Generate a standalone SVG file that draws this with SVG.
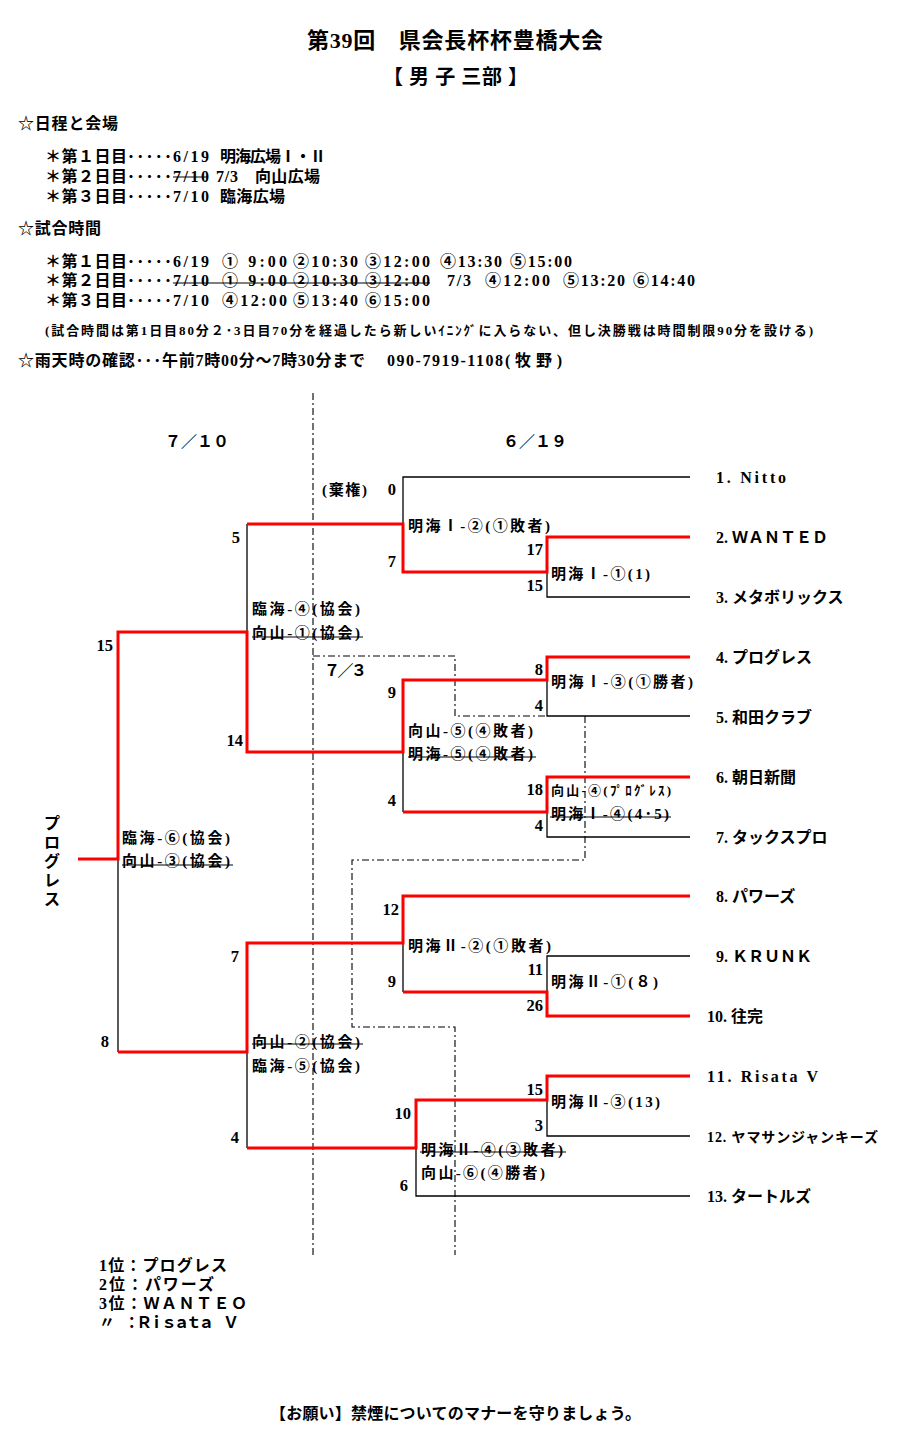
<svg xmlns="http://www.w3.org/2000/svg" width="911" height="1437" viewBox="0 0 911 1437">
<style>
text{font-family:"Liberation Serif","Noto Sans CJK JP",serif;font-weight:bold;fill:#000}
.h{font-size:16px}
.l{font-size:15px}
.sm{font-size:13px}
.sc{font-size:16.5px;text-anchor:end}
.tm{font-size:16px}
.bk{stroke:#000;stroke-width:1.3;fill:none}
.rd{stroke:#f00;stroke-width:3;fill:none}
.st{stroke:#000;stroke-width:1.2}
.dd{stroke:#000;stroke-width:1.1;fill:none;stroke-dasharray:7 3 2 3}
</style>
<rect width="911" height="1437" fill="#fff"/>

<g id="header">
<text x="307" y="48" style="font-size:22px" textLength="296">第39回　県会長杯杯豊橋大会</text>
<text x="383" y="84" style="font-size:20px" textLength="145">【 男 子 三部 】</text>

<text class="h" x="18" y="129" textLength="100">☆日程と会場</text>
<text class="h" x="45" y="162" textLength="82">＊第１日目</text><text class="h" x="127" y="162" textLength="45">･････</text><text class="h" x="173" y="162" textLength="36">6/19</text><text class="h" x="220" y="162" textLength="106">明海広場Ⅰ・Ⅱ</text>
<text class="h" x="45" y="182" textLength="82">＊第２日目</text><text class="h" x="127" y="182" textLength="45">･････</text><text class="h" x="173" y="182" textLength="36">7/10</text><text class="h" x="216" y="182" textLength="22">7/3</text><text class="h" x="255" y="182" textLength="65">向山広場</text>
<line class="st" x1="173" y1="177" x2="208" y2="177"/>
<text class="h" x="45" y="202" textLength="82">＊第３日目</text><text class="h" x="127" y="202" textLength="45">･････</text><text class="h" x="173" y="202" textLength="36">7/10</text><text class="h" x="220" y="202" textLength="65">臨海広場</text>

<text class="h" x="18" y="234" textLength="83">☆試合時間</text>
<text class="h" x="45" y="267" textLength="82">＊第１日目</text><text class="h" x="127" y="267" textLength="45">･････</text><text class="h" x="173" y="267" textLength="36">6/19</text>
<text class="h" x="222" y="267" textLength="65">① 9:00</text><text class="h" x="293" y="267" textLength="65">②10:30</text><text class="h" x="365" y="267" textLength="65">③12:00</text><text class="h" x="440" y="267" textLength="62">④13:30</text><text class="h" x="510" y="267" textLength="62">⑤15:00</text>
<text class="h" x="45" y="286" textLength="82">＊第２日目</text><text class="h" x="127" y="286" textLength="45">･････</text><text class="h" x="173" y="286" textLength="36">7/10</text>
<text class="h" x="222" y="286" textLength="65">① 9:00</text><text class="h" x="293" y="286" textLength="65">②10:30</text><text class="h" x="365" y="286" textLength="65">③12:00</text>
<line class="st" x1="173" y1="283" x2="430" y2="283"/>
<text class="h" x="447" y="286" textLength="24">7/3</text><text class="h" x="485" y="286" textLength="65">④12:00</text><text class="h" x="563" y="286" textLength="62">⑤13:20</text><text class="h" x="633" y="286" textLength="62">⑥14:40</text>
<text class="h" x="45" y="306" textLength="82">＊第３日目</text><text class="h" x="127" y="306" textLength="45">･････</text><text class="h" x="173" y="306" textLength="36">7/10</text>
<text class="h" x="222" y="306" textLength="65">④12:00</text><text class="h" x="293" y="306" textLength="65">⑤13:40</text><text class="h" x="365" y="306" textLength="65">⑥15:00</text>

<text class="sm" x="45" y="335" textLength="768">(試合時間は第1日目80分２･3日目70分を経過したら新しいｲﾆﾝｸﾞに入らない、但し決勝戦は時間制限90分を設ける)</text>
<text class="h" x="18" y="366" textLength="347">☆雨天時の確認･･･午前7時00分～7時30分まで</text>
<text class="h" x="387" y="366" textLength="116">090-7919-1108</text>
<text class="h" x="505" y="366" textLength="57">(牧野)</text>
</g>

<g id="dates">
<text class="h" x="165" y="447">７／１０</text>
<text class="h" x="503" y="447">６／１９</text>
</g>

<g id="connectors">
<line class="dd" x1="313" y1="393" x2="313" y2="1255"/>
<path class="dd" d="M313,656 H455 V716 H547"/>
<path class="dd" d="M585,716 V860 H352 V1027 H455 V1255"/>

<path class="bk" d="M690,477 H403 V524"/>
<path class="bk" d="M690,597 H547 V572"/>
<path class="bk" d="M690,716 H547 V680"/>
<path class="bk" d="M690,837 H547 V812"/>
<path class="bk" d="M403,752 V812"/>
<path class="bk" d="M247,524 V632"/>
<path class="bk" d="M118,859 V1052"/>
<path class="bk" d="M690,956 H547 V992"/>
<path class="bk" d="M403,943 V992"/>
<path class="bk" d="M690,1136 H547 V1100"/>
<path class="bk" d="M690,1196 H416 V1148"/>
<path class="bk" d="M247,1052 V1148"/>

<path class="rd" d="M690,537 H547 V572 H403 V524 H247"/>
<path class="rd" d="M690,657 H547 V680 H403 V752 H247 V632 H118 V859 H78"/>
<path class="rd" d="M690,777 H547 V812 H403"/>
<path class="rd" d="M690,896 H403 V943 H247 V1052 H118"/>
<path class="rd" d="M690,1016 H547 V992 H403"/>
<path class="rd" d="M690,1076 H547 V1100 H416 V1148 H247"/>
</g>

<g id="teams">
<g id="team-1"><text class="tm" x="716" y="483" textLength="70">1. Nitto</text></g>
<g id="team-2"><text class="tm" x="716" y="543">2. ＷＡＮＴＥＤ</text></g>
<g id="team-3"><text class="tm" x="716" y="603">3. メタボリックス</text></g>
<g id="team-4"><text class="tm" x="716" y="663">4. プログレス</text></g>
<g id="team-5"><text class="tm" x="716" y="723">5. 和田クラブ</text></g>
<g id="team-6"><text class="tm" x="716" y="783">6. 朝日新聞</text></g>
<g id="team-7"><text class="tm" x="716" y="843">7. タックスプロ</text></g>
<g id="team-8"><text class="tm" x="716" y="902">8. パワーズ</text></g>
<g id="team-9"><text class="tm" x="716" y="962">9. ＫＲＵＮＫ</text></g>
<g id="team-10"><text class="tm" x="707" y="1022">10. 往完</text></g>
<g id="team-11"><text class="tm" x="707" y="1082" textLength="111">11. Risata V</text></g>
<g id="team-12"><text x="707" y="1142" style="font-size:14px" textLength="171">12. ヤマサンジャンキーズ</text></g>
<g id="team-13"><text class="tm" x="707" y="1202">13. タートルズ</text></g>
</g>

<g id="match-meikai1-2">
<text class="l" x="322" y="495" textLength="45">(棄権)</text>
<text class="sc" x="396" y="495">0</text>
<text class="sc" x="396" y="567">7</text>
<text class="l" x="408" y="531" textLength="142">明海Ⅰ-②(①敗者)</text>
</g>
<g id="match-meikai1-1">
<text class="sc" x="543" y="555">17</text>
<text class="sc" x="543" y="591">15</text>
<text class="l" x="551" y="579" textLength="99">明海Ⅰ-①(1)</text>
</g>
<g id="match-meikai1-3">
<text class="sc" x="543" y="675">8</text>
<text class="sc" x="543" y="711">4</text>
<text class="l" x="551" y="687" textLength="142">明海Ⅰ-③(①勝者)</text>
</g>
<g id="match-mukai4">
<text class="sc" x="543" y="795">18</text>
<text class="sc" x="543" y="831">4</text>
<text x="551" y="795" style="font-size:13px" textLength="120">向山-④(ﾌﾟﾛｸﾞﾚｽ)</text>
<text class="l" x="551" y="819" textLength="118">明海Ⅰ-④(4･5)</text>
<line class="st" x1="550" y1="817" x2="671" y2="817"/>
</g>
<g id="match-mukai5">
<text class="sc" x="396" y="698">9</text>
<text class="sc" x="396" y="806">4</text>
<text class="l" x="408" y="736" textLength="125">向山-⑤(④敗者)</text>
<text class="l" x="408" y="759" textLength="125">明海-⑤(④敗者)</text>
<line class="st" x1="408" y1="757" x2="536" y2="757"/>
<text class="h" x="324" y="676" textLength="43">７／３</text>
</g>
<g id="match-rinkai4">
<text class="sc" x="240" y="543">5</text>
<text class="sc" x="243" y="746">14</text>
<text class="l" x="252" y="614" textLength="108">臨海-④(協会)</text>
<text class="l" x="252" y="638" textLength="108">向山-①(協会)</text>
<line class="st" x1="252" y1="637" x2="363" y2="637"/>
</g>
<g id="match-final">
<text class="sc" x="113" y="651">15</text>
<text class="sc" x="109" y="1047">8</text>
<text class="l" x="122" y="843" textLength="108">臨海-⑥(協会)</text>
<text class="l" x="122" y="866" textLength="108">向山-③(協会)</text>
<line class="st" x1="122" y1="865" x2="233" y2="865"/>
</g>
<g id="champion">
<text class="h" x="44" y="829">プ</text>
<text class="h" x="44" y="848">ロ</text>
<text class="h" x="44" y="867">グ</text>
<text class="h" x="44" y="886">レ</text>
<text class="h" x="44" y="905">ス</text>
</g>
<g id="match-meikai2-2">
<text class="sc" x="399" y="915">12</text>
<text class="sc" x="396" y="987">9</text>
<text class="l" x="408" y="951" textLength="143">明海Ⅱ-②(①敗者)</text>
</g>
<g id="match-meikai2-1">
<text class="sc" x="543" y="975">11</text>
<text class="sc" x="543" y="1011">26</text>
<text class="l" x="551" y="987" textLength="107">明海Ⅱ-①(８)</text>
</g>
<g id="match-mukai2">
<text class="sc" x="239" y="962">7</text>
<text class="sc" x="239" y="1143">4</text>
<text class="l" x="252" y="1047" textLength="108">向山-②(協会)</text>
<line class="st" x1="252" y1="1044" x2="363" y2="1044"/>
<text class="l" x="252" y="1071" textLength="108">臨海-⑤(協会)</text>
</g>
<g id="match-meikai2-3">
<text class="sc" x="543" y="1095">15</text>
<text class="sc" x="543" y="1131">3</text>
<text class="l" x="551" y="1107" textLength="109">明海Ⅱ-③(13)</text>
</g>
<g id="match-meikai2-4">
<text class="sc" x="411" y="1119">10</text>
<text class="sc" x="408" y="1191">6</text>
<text class="l" x="421" y="1155" textLength="142">明海Ⅱ-④(③敗者)</text>
<line class="st" x1="420" y1="1152" x2="566" y2="1152"/>
<text class="l" x="421" y="1178" textLength="124">向山-⑥(④勝者)</text>
</g>

<g id="results">
<text class="h" x="99" y="1271" textLength="128">1位：プログレス</text>
<text class="h" x="99" y="1290" textLength="115">2位：パワーズ</text>
<text class="h" x="99" y="1309" textLength="148">3位：ＷＡＮＴＥＯ</text>
<text class="h" x="99" y="1328" textLength="140">〃　：Ｒｉｓａｔａ　Ｖ</text>
</g>
<text class="h" x="270" y="1419" textLength="371">【お願い】禁煙についてのマナーを守りましょう。</text>
</svg>
